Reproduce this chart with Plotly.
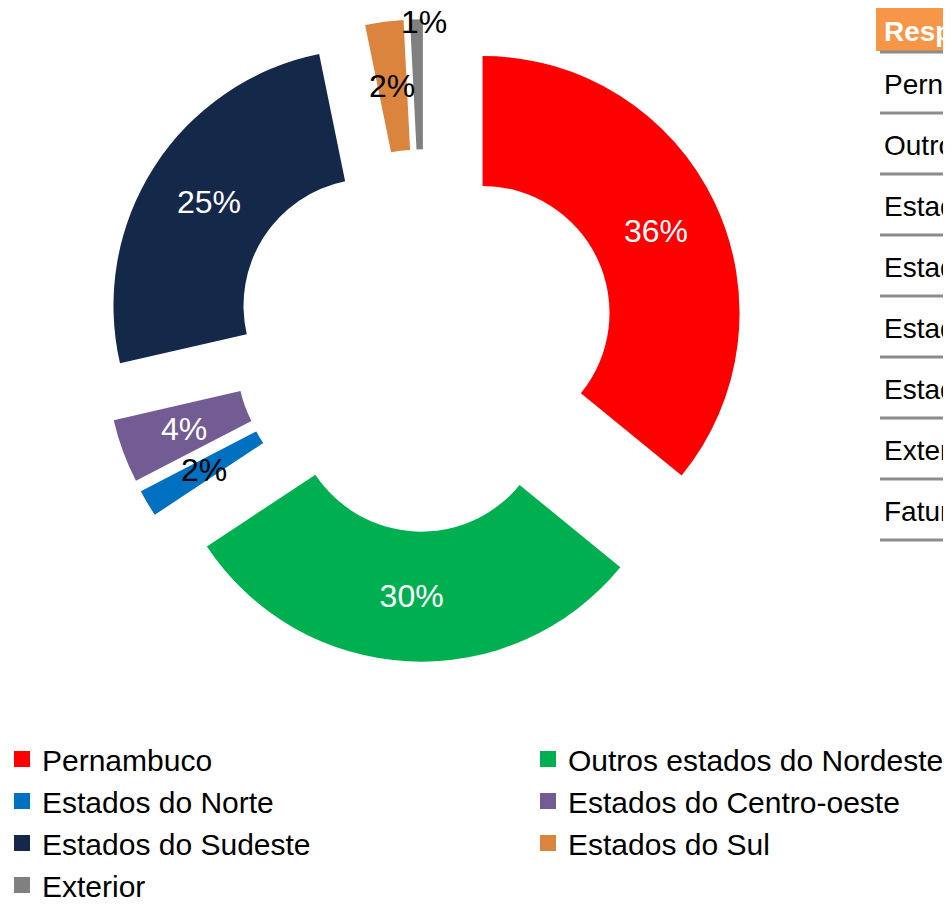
import math
import plotly.graph_objects as go

# ---------------- data ----------------
categories = ["Pernambuco", "Outros estados do Nordeste", "Estados do Norte",
              "Estados do Centro-oeste", "Estados do Sudeste", "Estados do Sul", "Exterior"]
values = [35.9, 29.8, 1.7, 4.0, 25.4, 2.4, 0.8]
table_header = ["Respostas"]
table_rows = ["Pernambuco", "Outros estados do Nordeste", "Estados do Norte",
              "Estados do Centro-oeste", "Estados do Sudeste", "Estados do Sul",
              "Exterior", "Faturamento"]

# ---------------- style ----------------
colors = ["#FF0000", "#00B050", "#0070C0", "#735B93", "#14284A", "#DA843E", "#808080"]
label_colors = ["white", "white", "black", "white", "white", "black", "black"]
# where each slice label goes: plotly's own inside text, mid-ring annotation, or outer-edge annotation
label_mode = ["pie", "pie", "mid", "mid", "pie", "mid", "outer"]
pulls = [0.25] * len(values)
HOLE = 0.494
W, H = 951, 905
PCX, PCY, PBOX = 416.5, 332.5, 642.5        # pie box centre / size in figure pixels
dom_x = [(PCX - PBOX / 2) / W, (PCX + PBOX / 2) / W]
dom_y = [1 - (PCY + PBOX / 2) / H, 1 - (PCY - PBOX / 2) / H]
LBL_FONT = "Liberation Sans, Arial, sans-serif"
LBL_SIZE = 32
SANS = "Liberation Sans, Arial, sans-serif"

templates = ["%{percent:.0%}" if m == "pie" else "" for m in label_mode]

fig = go.Figure()
fig.add_trace(go.Pie(
    labels=categories, values=values, sort=False, direction="clockwise", rotation=0,
    hole=HOLE, pull=pulls,
    marker=dict(colors=colors, line=dict(width=0)),
    texttemplate=templates, textposition="inside", insidetextorientation="horizontal",
    textfont=dict(family=LBL_FONT, size=LBL_SIZE, color=label_colors),
    domain=dict(x=dom_x, y=dom_y), showlegend=False, hoverinfo="skip",
))

# labels of the thin slices, positioned from the data with the pie's geometry
box_w = W * (dom_x[1] - dom_x[0]); box_h = H * (dom_y[1] - dom_y[0])
R = min(box_w, box_h) / 2 / (1 + max(pulls))
cx = W * (dom_x[0] + dom_x[1]) / 2
cy = H * (1 - dom_y[0]) - box_h / 2
total = sum(values)
cum = 0.0
for i, v in enumerate(values):
    mid = (cum + v / 2) / total * 2 * math.pi
    cum += v
    if label_mode[i] == "pie":
        continue
    if label_mode[i] == "mid":
        rad = R * (pulls[i] + (1 + HOLE) / 2)
        xs, ys = 0, 0
    else:
        rad = R * (1 + pulls[i])
        xs, ys = 8, -3
    px = cx + rad * math.sin(mid)
    py = cy - rad * math.cos(mid)
    fig.add_annotation(x=px / W, y=1 - py / H, xref="paper", yref="paper",
                       text=f"{v / total:.0%}", showarrow=False, xshift=xs, yshift=ys,
                       font=dict(family=LBL_FONT, size=LBL_SIZE, color=label_colors[i]),
                       xanchor="center", yanchor="middle")

# legend entries (two columns = two legends)
col1 = [0, 2, 4, 6]
for i, name in enumerate(categories):
    fig.add_trace(go.Scatter(
        x=[None], y=[None], mode="markers", name=name,
        marker=dict(symbol="square", size=16, color=colors[i]),
        legend="legend" if i in col1 else "legend2", hoverinfo="skip",
    ))

# table (cut by the right edge): body table + orange header table
tx0 = 868
head_h, row_h, pad_top = 44, 61, 13
n_rows = len(table_rows)
fig.add_trace(go.Table(
    domain=dict(x=[tx0 / W, 1], y=[1 - (head_h + pad_top + row_h * n_rows) / H, 1 - head_h / H]),
    header=dict(values=[" "], fill_color="white", height=pad_top,
                font=dict(size=2, color="white"), line=dict(width=0, color="white")),
    cells=dict(values=[[t.replace(" ", "\u00a0") for t in table_rows]], fill_color="white",
               font=dict(family=SANS, size=28, color="black"), align="left",
               height=row_h, line=dict(width=0, color="white")),
))
fig.add_trace(go.Table(
    domain=dict(x=[tx0 / W, 1], y=[1 - head_h / H, 1]),
    header=dict(values=[f"<b>{table_header[0]}</b>"], fill_color="#F79646",
                font=dict(family=SANS, size=28, color="white"), align="left",
                height=head_h, line=dict(width=0, color="#F79646")),
    cells=dict(values=[[" "]], fill_color="white", height=2,
               font=dict(size=2, color="white"), line=dict(width=0, color="white")),
))
for k in range(n_rows + 1):
    yy = 1 - (head_h + row_h * k) / H
    fig.add_shape(type="line", xref="paper", yref="paper", x0=(tx0 + 4) / W, x1=1,
                  y0=yy, y1=yy, line=dict(color="#8C8C8C", width=3))

leg_common = dict(orientation="v", yanchor="top", xanchor="left", y=1 - 725 / H,
                  font=dict(family=SANS, size=30, color="black"),
                  bgcolor="rgba(0,0,0,0)", borderwidth=0, tracegroupgap=0)
fig.update_layout(
    width=W, height=H, margin=dict(l=0, r=0, t=0, b=0, autoexpand=False),
    paper_bgcolor="white", plot_bgcolor="white",
    uniformtext=dict(minsize=LBL_SIZE, mode="show"),
    xaxis=dict(visible=False), yaxis=dict(visible=False),
    legend=dict(x=0, indentation=-6, **leg_common),
    legend2=dict(x=520 / W, **leg_common),
    showlegend=True,
)
fig.write_html("out.html")
